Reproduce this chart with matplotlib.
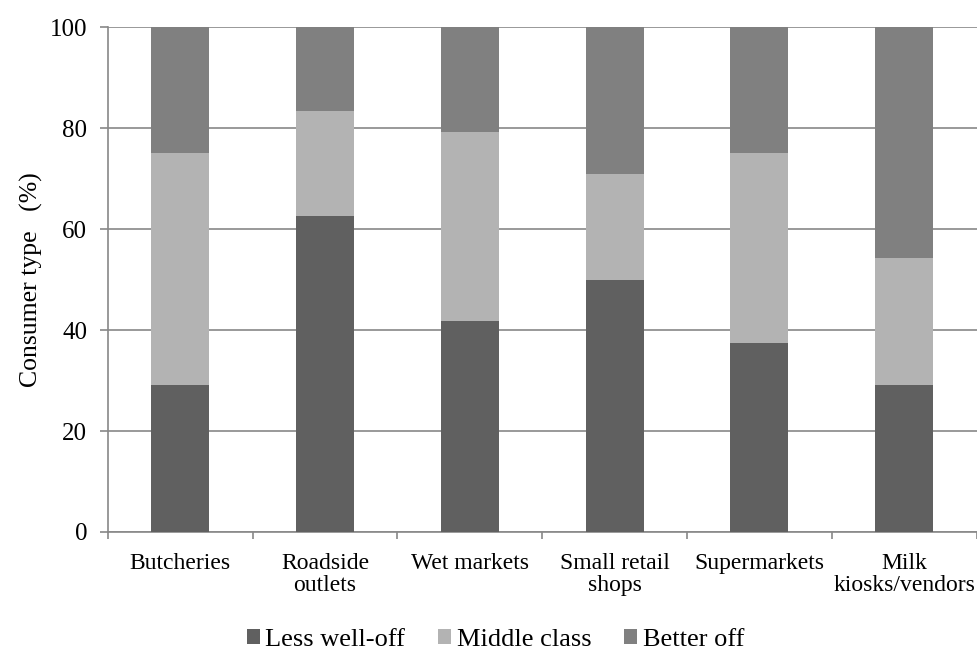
import matplotlib
matplotlib.use("Agg")
import matplotlib.pyplot as plt
import numpy as np

plt.rcParams['font.family'] = ['Liberation Serif', 'DejaVu Serif']

categories = ['Butcheries', 'Roadside\noutlets', 'Wet markets', 'Small retail\nshops',
              'Supermarkets', 'Milk\nkiosks/vendors']
less_well_off = [29.2, 62.5, 41.7, 50.0, 37.5, 29.2]
middle_class = [45.8, 20.8, 37.5, 20.8, 37.5, 25.0]
better_off = [25.0, 16.7, 20.8, 29.2, 25.0, 45.8]

series = [
    ('Less well-off', less_well_off, '#606060'),
    ('Middle class', middle_class, '#b3b3b3'),
    ('Better off', better_off, '#808080'),
]

fig = plt.figure(figsize=(9.77, 6.51), dpi=100)
ax = fig.add_axes([0.1105, 0.1828, 0.889, 0.7757])

x = np.arange(len(categories))
bottom = np.zeros(len(categories))
for name, vals, color in series:
    ax.bar(x, vals, width=0.4, bottom=bottom, color=color, label=name, zorder=3)
    bottom += np.array(vals)

ax.set_xlim(-0.5, len(categories) - 0.5)
ax.set_ylim(0, 100)
ax.set_yticks(range(0, 101, 20))
ax.yaxis.grid(True, color='#888888', linewidth=1.2, zorder=0)

ax.set_xticks(x)
ax.set_xticklabels(categories, fontsize=17, linespacing=1.05)
ax.set_xticks(np.arange(-0.5, len(categories)), minor=True)
ax.tick_params(axis='x', which='major', length=0, pad=15)
ax.tick_params(axis='x', which='minor', length=5, color='#888888', width=1.2)
ax.tick_params(axis='y', labelsize=18, length=6, color='#888888', width=1.2, pad=9)

for side in ['top', 'right']:
    ax.spines[side].set_visible(False)
for side in ['left', 'bottom']:
    ax.spines[side].set_color('#888888')
    ax.spines[side].set_linewidth(1.2)

ax.set_ylabel('Consumer type   (%)', fontsize=18.5, labelpad=5)

fig.legend(loc='center', bbox_to_anchor=(0.507, 0.017), ncol=3, frameon=False,
           fontsize=19, handlelength=0.5, handleheight=0.5, handletextpad=0.2,
           columnspacing=1.25, borderpad=0.2)

fig.savefig('out.png', dpi=100)
